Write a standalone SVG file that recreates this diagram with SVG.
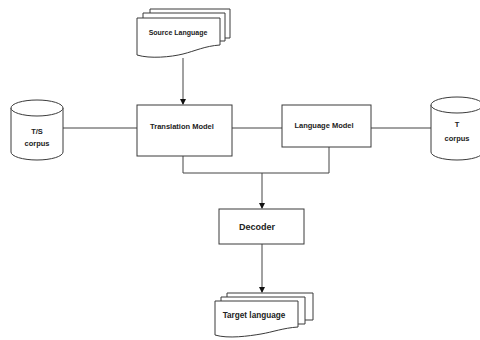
<svg xmlns="http://www.w3.org/2000/svg" width="480" height="340" viewBox="0 0 480 340">
<style>
.box{fill:#fff;stroke:#3a3a3a;stroke-width:1}
.ln{fill:none;stroke:#444;stroke-width:1}
.t{font-family:"Liberation Sans",Arial,sans-serif;font-weight:bold;fill:#222;text-anchor:middle}
</style>
<defs>
<marker id="ah" markerWidth="6" markerHeight="6" refX="5" refY="3" orient="auto" markerUnits="userSpaceOnUse">
<path d="M0,0 L6,3 L0,6 z" fill="#111"/>
</marker>
</defs>
<rect width="480" height="340" fill="#fff"/>
<g id="connectors">
<path class="ln" d="M183,58 V104" marker-end="url(#ah)"/>
<path class="ln" d="M63,128 H137"/>
<path class="ln" d="M232,128 H282"/>
<path class="ln" d="M371,128 H431"/>
<path class="ln" d="M183,156 V173 H329 V147"/>
<path class="ln" d="M262,173 V208" marker-end="url(#ah)"/>
<path class="ln" d="M262,244 V292" marker-end="url(#ah)"/>
</g>
<g id="source">
<path class="box" d="M150,13 V9 H230 V38 H225"/>
<path class="box" d="M143,18 V13 H225 V41 H220"/>
<path class="box" d="M137,18 H220 V45 C205,46 195,51 183,54 S150,59 137,55 Z"/>
<text class="t" x="178" y="34.5" font-size="7">Source Language</text>
</g>
<g id="translation">
<rect class="box" x="137" y="105" width="95" height="51"/>
<text class="t" x="182" y="128.5" font-size="7.5">Translation Model</text>
</g>
<g id="language">
<rect class="box" x="282" y="105" width="89" height="42"/>
<text class="t" x="324" y="127.5" font-size="7.5">Language Model</text>
</g>
<g id="ts-corpus">
<path class="box" d="M11,108 V152 A26,8 0 0 0 63,152 V108"/>
<ellipse class="box" cx="37" cy="108" rx="26" ry="8"/>
<text class="t" x="37" y="133.5" font-size="7.5">T/S</text>
<text class="t" x="37" y="145.5" font-size="7.5">corpus</text>
</g>
<g id="t-corpus">
<path class="box" d="M431,105 V152 A26,8 0 0 0 483,152 V105"/>
<ellipse class="box" cx="457" cy="105" rx="26" ry="8"/>
<text class="t" x="457" y="127" font-size="7.5">T</text>
<text class="t" x="457" y="140.5" font-size="7.5">corpus</text>
</g>
<g id="decoder">
<rect class="box" x="219" y="209" width="85" height="35"/>
<text class="t" x="257" y="230" font-size="9">Decoder</text>
</g>
<g id="target">
<path class="box" d="M227,297 V293 H313 V320 H305"/>
<path class="box" d="M221,301 V297 H305 V324 H298"/>
<path class="box" d="M215,301 H298 V327 C283,328 273,332 261,334 S228,339 215,335 Z"/>
<text class="t" x="254" y="318" font-size="8.2">Target language</text>
</g>
</svg>
